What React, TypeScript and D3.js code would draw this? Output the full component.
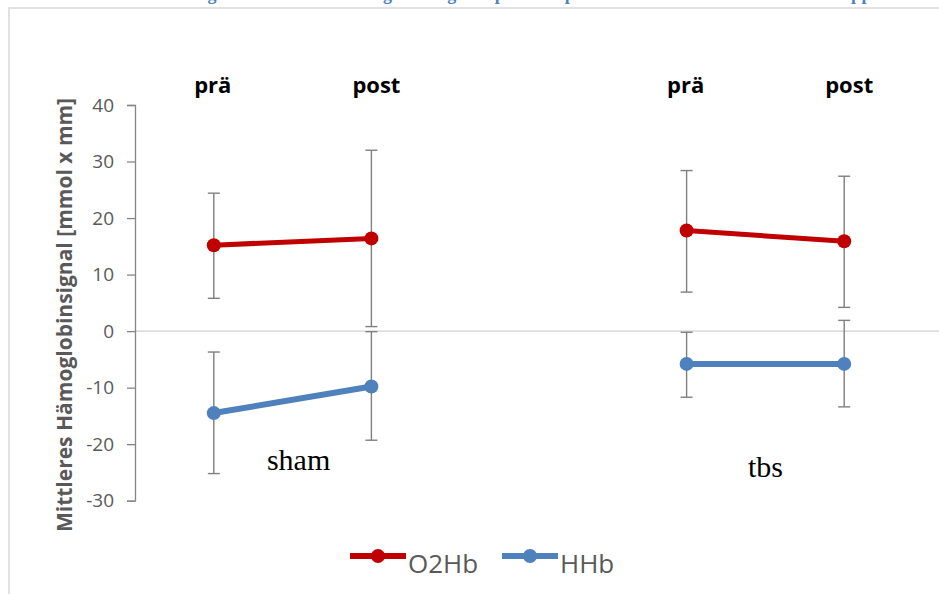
import { useEffect, useRef } from 'react';
import * as d3 from 'd3';
import React from 'react';

// slots on the x axis, the middle one is an empty gap between the groups
const slots = ['sham-prä', 'sham-post', 'gap', 'tbs-prä', 'tbs-post'];
const phaseLabels = ['prä', 'post', '', 'prä', 'post'];
const groups = [
  { name: 'sham', slots: ['sham-prä', 'sham-post'] },
  { name: 'tbs', slots: ['tbs-prä', 'tbs-post'] },
];

const o2hbMean = [15.2, 16.4, 17.8, 15.9];
const o2hbLow = [5.8, 0.8, 6.9, 4.2];
const o2hbHigh = [24.4, 32.0, 28.4, 27.4];

const hhbMean = [-14.5, -9.8, -5.8, -5.8];
const hhbLow = [-25.2, -19.3, -11.7, -13.4];
const hhbHigh = [-3.7, -0.1, -0.2, 1.9];

const yTicks = [40, 30, 20, 10, 0, -10, -20, -30];

const title = 'Veränderung des mittleren Hämoglobinsignals prä und post in der Sham und der TBS Gruppe';

const App = () => {
  const svgRef = useRef(null);

  useEffect(() => {
    const svg = d3.select(svgRef.current);
    svg.selectAll('*').remove();

    const W = 939, H = 594;
    const x = d3.scalePoint().domain(slots).range([135, 923]).padding(0.5);
    const y = d3.scaleLinear().domain([-30, 40]).range([500.7, 105]);
    const axisGray = '#868686';
    const textGray = '#595959';
    const sans = "'Open Sans', 'Noto Sans', sans-serif";

    // outer frame
    svg.append('rect')
      .attr('x', 9).attr('y', 8)
      .attr('width', W).attr('height', H)
      .attr('fill', 'none')
      .attr('stroke', '#d9d9d9')
      .attr('stroke-width', 1.5);

    // title, mostly cut off by the top edge like in the source image
    svg.append('text')
      .attr('x', 110).attr('y', 0)
      .attr('textLength', 770)
      .attr('lengthAdjust', 'spacing')
      .attr('font-family', "'Liberation Serif', serif")
      .attr('font-weight', 'bold')
      .attr('font-size', 18)
      .attr('fill', '#4f81bd')
      .text(title);

    // zero line
    svg.append('line')
      .attr('x1', 135).attr('x2', W)
      .attr('y1', y(0)).attr('y2', y(0))
      .attr('stroke', '#d0d0d0')
      .attr('stroke-width', 1.2);

    // y axis
    const yAxis = svg.append('g')
      .attr('transform', 'translate(135,0)')
      .call(d3.axisLeft(y).tickValues(yTicks).tickFormat(d => String(d))
        .tickSize(8).tickSizeOuter(8).tickPadding(13));
    yAxis.selectAll('path, line').attr('stroke', axisGray).attr('stroke-width', 1.3);
    yAxis.selectAll('text')
      .attr('font-family', sans)
      .attr('font-size', 19)
      .attr('fill', textGray);

    // y title
    svg.append('text')
      .attr('transform', `translate(72,${(95 + 535) / 2}) rotate(-90)`)
      .attr('text-anchor', 'middle')
      .attr('font-family', sans)
      .attr('font-weight', 'bold')
      .attr('font-size', 21)
      .attr('fill', textGray)
      .text('Mittleres Hämoglobinsignal [mmol x mm]');

    // phase labels on top
    slots.forEach((s, i) => {
      if (!phaseLabels[i]) return;
      svg.append('text')
        .attr('x', x(s) + (phaseLabels[i] === 'post' ? 5 : -1))
        .attr('y', 93)
        .attr('text-anchor', 'middle')
        .attr('font-family', sans)
        .attr('font-weight', 'bold')
        .attr('font-size', 22)
        .attr('fill', '#000')
        .text(phaseLabels[i]);
    });

    // group labels
    const groupY = [470, 477];
    groups.forEach((g, i) => {
      const cx = (x(g.slots[0]) + x(g.slots[1])) / 2 + (i === 0 ? 6 : 0);
      svg.append('text')
        .attr('x', cx)
        .attr('y', groupY[i])
        .attr('text-anchor', 'middle')
        .attr('font-family', "'Liberation Serif', serif")
        .attr('font-size', 30)
        .attr('fill', '#000')
        .text(g.name);
    });

    const dataSlots = slots.filter(s => s !== 'gap');
    const series = [
      { mean: o2hbMean, low: o2hbLow, high: o2hbHigh, color: '#c00000', width: 5 },
      { mean: hhbMean, low: hhbLow, high: hhbHigh, color: '#4f81bd', width: 6 },
    ];

    // error bars
    series.forEach(sr => {
      dataSlots.forEach((s, i) => {
        const cx = x(s);
        const eb = svg.append('g')
          .attr('stroke', '#7f7f7f')
          .attr('stroke-width', 1.4);
        eb.append('line').attr('x1', cx).attr('x2', cx).attr('y1', y(sr.low[i])).attr('y2', y(sr.high[i]));
        eb.append('line').attr('x1', cx - 6).attr('x2', cx + 6).attr('y1', y(sr.low[i])).attr('y2', y(sr.low[i]));
        eb.append('line').attr('x1', cx - 6).attr('x2', cx + 6).attr('y1', y(sr.high[i])).attr('y2', y(sr.high[i]));
      });
    });

    // lines and markers
    const line = d3.line().x(d => d[0]).y(d => d[1]);
    series.forEach(sr => {
      groups.forEach((g, gi) => {
        const pts = g.slots.map((s, k) => [x(s), y(sr.mean[gi * 2 + k])]);
        svg.append('path')
          .attr('d', line(pts))
          .attr('fill', 'none')
          .attr('stroke', sr.color)
          .attr('stroke-width', sr.width);
        pts.forEach(p => {
          svg.append('circle')
            .attr('cx', p[0]).attr('cy', p[1])
            .attr('r', 7)
            .attr('fill', sr.color);
        });
      });
    });

    // legend
    const legendItems = [
      { label: 'O2Hb', color: '#c00000', x0: 350 },
      { label: 'HHb', color: '#4f81bd', x0: 502 },
    ];
    legendItems.forEach(it => {
      const lg = svg.append('g');
      lg.append('line')
        .attr('x1', it.x0).attr('x2', it.x0 + 56)
        .attr('y1', 556).attr('y2', 556)
        .attr('stroke', it.color)
        .attr('stroke-width', 6);
      lg.append('circle')
        .attr('cx', it.x0 + 28).attr('cy', 556)
        .attr('r', 7)
        .attr('fill', it.color);
      lg.append('text')
        .attr('x', it.x0 + 58)
        .attr('y', 573)
        .attr('font-family', sans)
        .attr('font-size', 26)
        .attr('fill', textGray)
        .text(it.label);
    });
  }, []);

  return (
    <svg ref={svgRef} width={939} height={594}
      style={{ position: 'absolute', left: 0, top: 0, background: '#fff' }}></svg>
  );
};

export default App;
